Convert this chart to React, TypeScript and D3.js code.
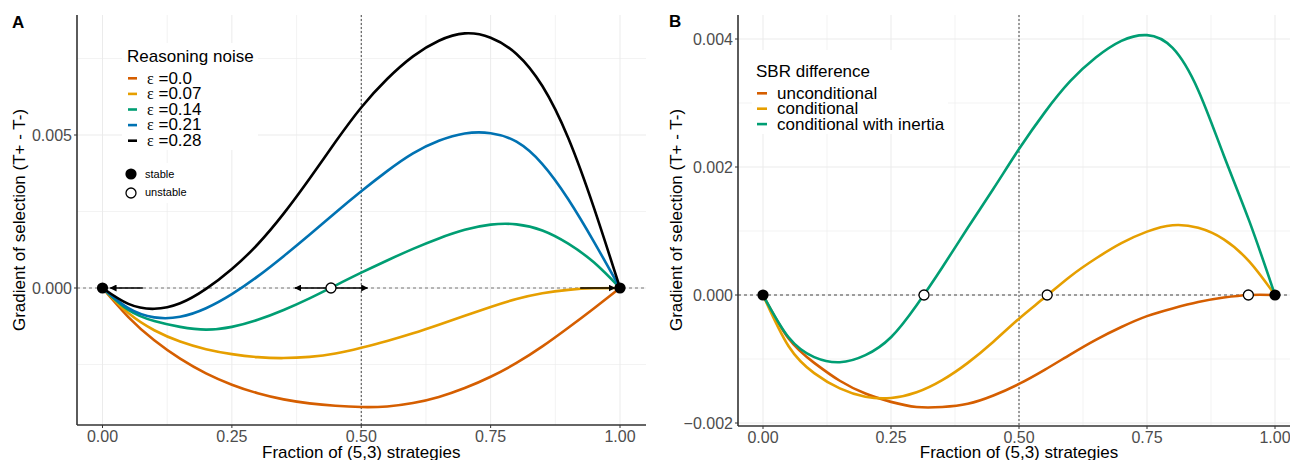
import React from 'react';
import * as d3 from 'd3';

// shared x grid (fraction of (5,3) strategies)
const fractions = [0, 0.05, 0.1, 0.15, 0.2, 0.25, 0.3, 0.35, 0.4, 0.45, 0.5, 0.55, 0.6, 0.65, 0.7, 0.75, 0.8, 0.85, 0.9, 0.95, 1];

// panel A: reasoning noise
const noiseLabels = ['0.0', '0.07', '0.14', '0.21', '0.28'];
const noiseColors = ['#D55E00', '#E69F00', '#009E73', '#0072B2', '#000000'];
const eps000 = [0, -0.00095, -0.00171, -0.00231, -0.00279, -0.00316, -0.00344, -0.00364, -0.00377, -0.00385, -0.00389, -0.00387, -0.00376, -0.00356, -0.00327, -0.0029, -0.00245, -0.00191, -0.0013, -0.00066, 0];
const eps007 = [0, -0.00082, -0.00138, -0.00175, -0.002, -0.00216, -0.00226, -0.00229, -0.00225, -0.00214, -0.00195, -0.00173, -0.00148, -0.0012, -0.00091, -0.00062, -0.00036, -0.00017, -0.00006, -0.00001, 0];
const eps014 = [0, -0.00072, -0.00108, -0.00127, -0.00136, -0.00127, -0.00104, -0.00072, -0.00034, 0.00008, 0.0005, 0.0009, 0.00128, 0.00162, 0.0019, 0.00207, 0.00208, 0.00188, 0.00145, 0.00083, 0];
const eps021 = [0, -0.00066, -0.00096, -0.00094, -0.00066, -0.0002, 0.00038, 0.00104, 0.00174, 0.00246, 0.00316, 0.00382, 0.0044, 0.00481, 0.00505, 0.00506, 0.00478, 0.00405, 0.0029, 0.0015, 0];
const eps028 = [0, -0.00052, -0.00068, -0.0005, -0.00003, 0.00062, 0.00143, 0.00243, 0.00357, 0.00477, 0.0059, 0.00683, 0.00757, 0.00808, 0.00832, 0.00818, 0.00765, 0.0066, 0.0049, 0.0026, 0];
const noiseSeries = [eps000, eps007, eps014, eps021, eps028];

const stableA = [0, 1];
const unstableA = [0.4415];
const arrowsA = [[0.078, 0.015], [0.4415, 0.372], [0.4415, 0.512], [0.923, 0.99]];

// panel B: SBR difference
const sbrLabels = ['unconditional', 'conditional', 'conditional with inertia'];
const sbrColors = ['#D55E00', '#E69F00', '#009E73'];
const unconditional = [0, -0.00068, -0.00106, -0.00134, -0.00154, -0.00167, -0.00175, -0.00175, -0.0017, -0.00157, -0.00139, -0.00117, -0.00093, -0.0007, -0.0005, -0.00033, -0.00021, -0.00011, -0.00004, 0, 0];
const conditional = [0, -0.0008, -0.00122, -0.00146, -0.00159, -0.00161, -0.00152, -0.00133, -0.00106, -0.00073, -0.00037, -0.00004, 0.00029, 0.00057, 0.00081, 0.00099, 0.00109, 0.00105, 0.00087, 0.00052, 0];
const withInertia = [0, -0.00066, -0.00097, -0.00105, -0.00094, -0.00066, -0.00016, 0.00043, 0.00105, 0.00166, 0.00228, 0.00285, 0.00334, 0.00371, 0.00397, 0.00406, 0.00386, 0.0032, 0.00218, 0.00115, 0];
const sbrSeries = [unconditional, conditional, withInertia];

const stableB = [0, 1];
const unstableB = [0.3145, 0.555, 0.948];

const xTicks = [0, 0.25, 0.5, 0.75, 1];
const xMinor = [0.125, 0.375, 0.625, 0.875];
const yTicksA = [0, 0.005];
const yMinorA = [-0.0025, 0.0025, 0.0075];
const yTicksB = [-0.002, 0, 0.002, 0.004];
const yMinorB = [-0.001, 0.001, 0.003];

const FONT = '"Liberation Sans", Arial, sans-serif';
const GRID = '#EBEBEB';

function Panel(props) {
  const { box, x, y, yTicks, yMinor, series, colors, stable, unstable, arrows, zeroColor, yTitleX, id } = props;
  const line = d3
    .line()
    .x((d) => x(d[0]))
    .y((d) => y(d[1]))
    .curve(d3.curveNatural);
  const fmt = d3.format('.3f');
  const fmtX = d3.format('.2f');
  return (
    <g>
      <defs>
        <clipPath id={'clip' + id}>
          <rect x={box.left} y={box.top} width={box.right - box.left} height={box.bottom - box.top} />
        </clipPath>
        <marker id={'arr' + id} viewBox="0 0 10 10" refX="9" refY="5" markerWidth="7" markerHeight="7" markerUnits="userSpaceOnUse" orient="auto">
          <path d="M0,0 L10,5 L0,10 z" fill="#000" />
        </marker>
      </defs>
      {/* grid */}
      {yMinor.map((t) => (
        <line key={'ym' + t} x1={box.left} x2={box.right} y1={y(t)} y2={y(t)} stroke={GRID} strokeWidth={0.6} />
      ))}
      {xMinor.map((t) => (
        <line key={'xm' + t} x1={x(t)} x2={x(t)} y1={box.top} y2={box.bottom} stroke={GRID} strokeWidth={0.6} />
      ))}
      {yTicks.map((t) => (
        <line key={'yg' + t} x1={box.left} x2={box.right} y1={y(t)} y2={y(t)} stroke={GRID} strokeWidth={1} />
      ))}
      {xTicks.map((t) => (
        <line key={'xg' + t} x1={x(t)} x2={x(t)} y1={box.top} y2={box.bottom} stroke={GRID} strokeWidth={1} />
      ))}
      {/* reference lines */}
      <line x1={box.left} x2={box.right} y1={y(0)} y2={y(0)} stroke={zeroColor} strokeWidth={1} strokeDasharray="3,3" />
      <line x1={x(0.5)} x2={x(0.5)} y1={box.top} y2={box.bottom} stroke="#444" strokeWidth={1} strokeDasharray="2,2" />
      {/* curves */}
      <g clipPath={`url(#clip${id})`}>
        {series.map((s, i) => (
          <path key={i} d={line(fractions.map((f, j) => [f, s[j]]))} fill="none" stroke={colors[i]} strokeWidth={2.6} />
        ))}
      </g>
      {arrows.map((a, i) => (
        <line key={'a' + i} x1={x(a[0])} x2={x(a[1])} y1={y(0)} y2={y(0)} stroke="#000" strokeWidth={1.3} markerEnd={`url(#arr${id})`} />
      ))}
      {stable.map((p) => (
        <circle key={'s' + p} cx={x(p)} cy={y(0)} r={5.6} fill="#000" />
      ))}
      {unstable.map((p) => (
        <circle key={'u' + p} cx={x(p)} cy={y(0)} r={5} fill="#fff" stroke="#000" strokeWidth={1.3} />
      ))}
      {/* axes */}
      <line x1={box.left} x2={box.left} y1={box.top} y2={box.bottom} stroke="#333" strokeWidth={1.6} />
      <line x1={box.left} x2={box.right} y1={box.bottom} y2={box.bottom} stroke="#333" strokeWidth={1.6} />
      {yTicks.map((t) => (
        <g key={'yt' + t}>
          <line x1={box.left - 3} x2={box.left} y1={y(t)} y2={y(t)} stroke="#333" strokeWidth={1} />
          <text x={box.left - 5} y={y(t)} dy="0.36em" textAnchor="end" fontSize={16} fill="#4D4D4D" fontFamily={FONT}>
            {fmt(t)}
          </text>
        </g>
      ))}
      {xTicks.map((t) => (
        <g key={'xt' + t}>
          <line x1={x(t)} x2={x(t)} y1={box.bottom} y2={box.bottom + 3} stroke="#333" strokeWidth={1} />
          <text x={x(t)} y={box.bottom + 16.5} textAnchor="middle" fontSize={16} fill="#4D4D4D" fontFamily={FONT}>
            {fmtX(t)}
          </text>
        </g>
      ))}
      <text x={x(0.5)} y={457.5} textAnchor="middle" fontSize={17} fill="#000" fontFamily={FONT}>
        Fraction of (5,3) strategies
      </text>
      <text transform={`translate(${yTitleX},220) rotate(-90)`} textAnchor="middle" fontSize={17} fill="#000" fontFamily={FONT}>
        Gradient of selection (T+ - T-)
      </text>
    </g>
  );
}

export default function App() {
  const boxA = { left: 77, right: 646, top: 15, bottom: 425 };
  const xA = d3.scaleLinear().domain([0, 1]).range([102.5, 620]);
  const yA = d3.scaleLinear().domain([0, 0.005]).range([288, 135]);
  const boxB = { left: 738, right: 1300, top: 15, bottom: 426 };
  const xB = d3.scaleLinear().domain([0, 1]).range([763, 1275]);
  const yB = d3.scaleLinear().domain([0, 0.002]).range([295, 167]);

  return (
    <svg width={1290} height={460} style={{ position: 'absolute', left: 0, top: 0, background: '#fff' }} fontFamily={FONT}>
      <rect width={1290} height={460} fill="#fff" />
      <Panel id="A" box={boxA} x={xA} y={yA} yTicks={yTicksA} yMinor={yMinorA} series={noiseSeries} colors={noiseColors}
        stable={stableA} unstable={unstableA} arrows={arrowsA} zeroColor="#777" yTitleX={25} />
      <Panel id="B" box={boxB} x={xB} y={yB} yTicks={yTicksB} yMinor={yMinorB} series={sbrSeries} colors={sbrColors}
        stable={stableB} unstable={unstableB} arrows={[]} zeroColor="#444" yTitleX={682} />

      {/* panel labels */}
      <text x={12} y={28} fontSize={17} fontWeight="bold">A</text>
      <text x={669} y={27} fontSize={17} fontWeight="bold">B</text>

      {/* legend A */}
      <rect x={122} y={43} width={136} height={107} fill="#fff" />
      <text x={127} y={62} fontSize={17}>Reasoning noise</text>
      {noiseLabels.map((l, i) => (
        <g key={l}>
          <line x1={128} x2={137} y1={78.3 + i * 15.6} y2={78.3 + i * 15.6} stroke={noiseColors[i]} strokeWidth={2.6} />
          <text x={147} y={83.5 + i * 15.6} fontSize={17}>
            <tspan fontFamily='"Liberation Serif", serif' fontSize={16}>ε</tspan> ={l}
          </text>
        </g>
      ))}
      <rect x={122} y={163} width={75} height={40} fill="#fff" />
      <circle cx={131} cy={174} r={5.6} fill="#000" />
      <circle cx={131} cy={193} r={5} fill="#fff" stroke="#000" strokeWidth={1.3} />
      <text x={145} y={177.5} fontSize={11}>stable</text>
      <text x={145} y={196} fontSize={11}>unstable</text>

      {/* legend B */}
      <rect x={752} y={50} width={196} height={84} fill="#fff" />
      <text x={756} y={77} fontSize={17}>SBR difference</text>
      {sbrLabels.map((l, i) => (
        <g key={l}>
          <line x1={757} x2={767} y1={93.3 + i * 15.4} y2={93.3 + i * 15.4} stroke={sbrColors[i]} strokeWidth={2.6} />
          <text x={777} y={99 + i * 15.4} fontSize={17}>{l}</text>
        </g>
      ))}
    </svg>
  );
}
